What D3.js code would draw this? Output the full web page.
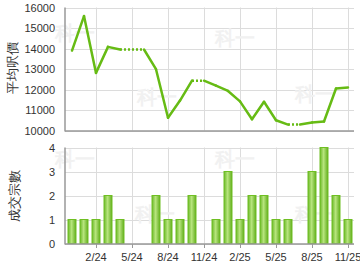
<!DOCTYPE html>
<html>
<head>
<meta charset="utf-8">
<script src="https://cdn.jsdelivr.net/npm/d3@7"></script>
<style>
body { margin: 0; background: #fff; }
text { font-family: "Liberation Sans", Arial, sans-serif; }
</style>
</head>
<body>
<script>
// months shown on the x axis (one bar / one point per month)
var months = ["12/23","1/24","2/24","3/24","4/24","5/24","6/24","7/24","8/24","9/24","10/24","11/24",
              "12/24","1/25","2/25","3/25","4/25","5/25","6/25","7/25","8/25","9/25","10/25","11/25"]

// average price per sq ft (null = no deal that month)
var prices = [13900,15580,12810,14080,13950,null,null,12990,10620,11460,12430,null,
              12190,11930,11420,10550,11400,10500,10290,null,10390,10440,12050,12100]

// number of deals
var counts = [1,1,1,2,1,0,0,2,1,1,2,0,1,3,1,2,2,1,1,0,3,4,2,1]

var tickMonths = ["2/24","5/24","8/24","11/24","2/25","5/25","8/25","11/25"]
var priceTicks = [10000,11000,12000,13000,14000,15000,16000]
var countTicks = [0,1,2,3,4]

var width = 360
var height = 270

var svg = d3.select("body").append("svg")
    .attr("width", width)
    .attr("height", height)

var defs = svg.append("defs")
var grad = defs.append("linearGradient").attr("id", "barGrad")
    .attr("x1", "0%").attr("x2", "100%").attr("y1", "0%").attr("y2", "0%")
grad.append("stop").attr("offset", "0%").attr("stop-color", "#6cb82a")
grad.append("stop").attr("offset", "45%").attr("stop-color", "#b8e57e")
grad.append("stop").attr("offset", "100%").attr("stop-color", "#62ad1e")

var left = 65, right = 354

var x = d3.scaleBand().domain(months).range([66, right]).paddingInner(0.25).paddingOuter(0.125)
function cx(m) { return x(m) + x.bandwidth() / 2 }

var yTop = d3.scaleLinear().domain([10000, 16000]).range([130.5, 7.5])
var yBot = d3.scaleLinear().domain([0, 4]).range([243.5, 147.5])

// grid + tick labels for one panel
function drawPanel(y, ticks) {
    var g = svg.append("g")
    g.selectAll(".hg").data(ticks).enter().append("line")
        .attr("x1", left).attr("x2", right)
        .attr("y1", function(d){ return Math.round(y(d)) + 0.5 })
        .attr("y2", function(d){ return Math.round(y(d)) + 0.5 })
        .attr("stroke", "#dcdcdc")
    g.selectAll(".vg").data(tickMonths).enter().append("line")
        .attr("x1", function(d){ return Math.round(cx(d)) + 0.5 })
        .attr("x2", function(d){ return Math.round(cx(d)) + 0.5 })
        .attr("y1", y.range()[1]).attr("y2", y.range()[0])
        .attr("stroke", "#dcdcdc")
    g.selectAll(".yl").data(ticks).enter().append("text")
        .attr("x", 55).attr("y", function(d){ return y(d) + 4 })
        .attr("text-anchor", "end")
        .attr("font-size", 11).attr("fill", "#333")
        .text(function(d){ return d })
    return g
}

drawPanel(yTop, priceTicks)
drawPanel(yBot, countTicks)

// watermark
var marks = [[55,40],[137,104],[215,45],[295,101],[55,166],[135,221],[215,166],[295,221]]
svg.selectAll(".wm").data(marks).enter().append("text")
    .attr("x", function(d){ return d[0] }).attr("y", function(d){ return d[1] })
    .attr("font-size", 20).attr("font-weight", "bold")
    .attr("font-family", "Noto Sans CJK TC")
    .attr("fill", "#f1f1f1")
    .text("科一")

// price line, months without deals carry last value and get a dotted segment
var filled = []
var last = null
prices.forEach(function(p){
    if (p != null) last = p
    filled.push(last)
})
var line = d3.line()
for (var i = 0; i < months.length - 1; i++) {
    var seg = [[cx(months[i]), yTop(filled[i])], [cx(months[i+1]), yTop(filled[i+1])]]
    svg.append("path")
        .attr("d", line(seg))
        .attr("fill", "none")
        .attr("stroke", "#66bb14")
        .attr("stroke-width", 2.5)
        .attr("stroke-linecap", prices[i+1] == null ? "butt" : "round")
        .attr("stroke-dasharray", prices[i+1] == null ? "2,2" : null)
}

// bars
var barData = months.map(function(m, i){ return {month: m, count: counts[i]} })
    .filter(function(d){ return d.count > 0 })
svg.selectAll(".bar").data(barData).enter().append("rect")
    .attr("x", function(d){ return x(d.month) + 0.5 })
    .attr("y", function(d){ return yBot(d.count) })
    .attr("width", x.bandwidth() - 1)
    .attr("height", function(d){ return yBot(0) - yBot(d.count) })
    .attr("fill", "url(#barGrad)")
    .attr("stroke", "#6fbf22")
    .attr("stroke-width", 1)

// axis lines
function axisLines(y) {
    svg.append("line").attr("x1", left).attr("x2", left)
        .attr("y1", y.range()[1]).attr("y2", y.range()[0] + 1)
        .attr("stroke", "#999").attr("stroke-width", 1.5)
    svg.append("line").attr("x1", left).attr("x2", right)
        .attr("y1", y.range()[0] + 0.5).attr("y2", y.range()[0] + 0.5)
        .attr("stroke", "#999").attr("stroke-width", 1.5)
}
axisLines(yTop)
axisLines(yBot)

// x ticks and labels under bottom panel
svg.selectAll(".xt").data(tickMonths).enter().append("line")
    .attr("x1", function(d){ return Math.round(cx(d)) + 0.5 })
    .attr("x2", function(d){ return Math.round(cx(d)) + 0.5 })
    .attr("y1", 244).attr("y2", 248)
    .attr("stroke", "#999")
svg.selectAll(".xl").data(tickMonths).enter().append("text")
    .attr("x", function(d){ return cx(d) }).attr("y", 261)
    .attr("text-anchor", "middle")
    .attr("font-size", 11).attr("fill", "#333")
    .text(function(d){ return d })

// axis titles
svg.append("text")
    .attr("transform", "translate(17,68) rotate(-90)")
    .attr("text-anchor", "middle")
    .attr("font-family", "Noto Sans CJK TC")
    .attr("font-size", 13).attr("fill", "#333")
    .text("平均呎價")
svg.append("text")
    .attr("transform", "translate(19,196) rotate(-90)")
    .attr("text-anchor", "middle")
    .attr("font-family", "Noto Sans CJK TC")
    .attr("font-size", 13).attr("fill", "#333")
    .text("成交宗數")
</script>
</body>
</html>
